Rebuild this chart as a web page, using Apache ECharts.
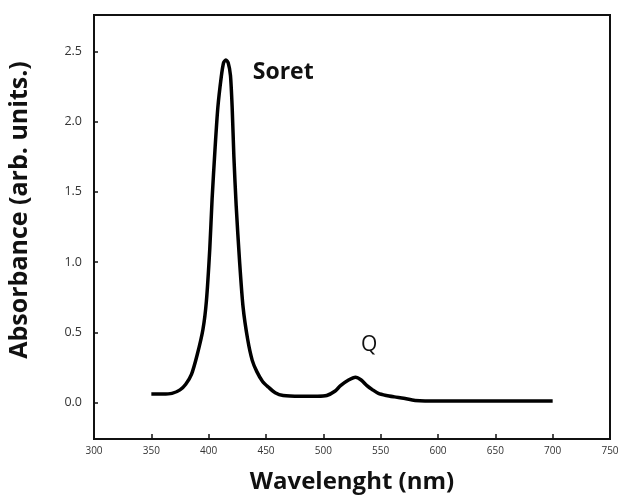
<!DOCTYPE html>
<html>
<head>
<meta charset="utf-8">
<script src="https://cdn.jsdelivr.net/npm/echarts@6/dist/echarts.min.js"></script>
<style>
  html, body { margin: 0; padding: 0; background: #fff; }
  #chart { width: 623px; height: 498px; }
</style>
</head>
<body>
<div id="chart"></div>
<script>
// spectrum
const wavelength = [350, 360, 368, 375, 380, 385, 390, 395, 398, 401, 403, 405.5, 408, 411, 413, 415, 417, 419, 420.5, 422, 424, 427, 430, 434, 438, 442, 447, 452, 458, 465, 480, 495, 503, 510, 515, 522, 528, 533, 538, 543, 548, 555, 562, 570, 580, 600, 650, 700];
const absorbance = [0.06, 0.06, 0.065, 0.09, 0.13, 0.2, 0.34, 0.52, 0.72, 1.1, 1.45, 1.8, 2.1, 2.32, 2.42, 2.44, 2.42, 2.33, 2.1, 1.75, 1.4, 1.0, 0.68, 0.45, 0.3, 0.22, 0.15, 0.11, 0.07, 0.05, 0.045, 0.045, 0.05, 0.08, 0.12, 0.16, 0.18, 0.16, 0.12, 0.09, 0.065, 0.05, 0.04, 0.03, 0.015, 0.01, 0.01, 0.01];
const yTicks = [0, 0.5, 1, 1.5, 2, 2.5];

const peakLabels = [
  { name: 'Soret', coord: [465, 2.35], bold: true },
  { name: 'Q', coord: [540, 0.41], bold: false }
];

const font = '"Open Sans", "Noto Sans", sans-serif';

const chart = echarts.init(document.getElementById('chart'));

const option = {
  animation: false,
  backgroundColor: '#fff',
  grid: {
    left: 94, right: 13, top: 15, bottom: 59,
    outerBoundsMode: 'none',
    show: true, borderColor: '#111', borderWidth: 2
  },
  xAxis: {
    type: 'value',
    min: 300, max: 750, interval: 50,
    name: 'Wavelenght (nm)',
    nameLocation: 'middle',
    nameGap: 31,
    nameTextStyle: { fontFamily: font, fontWeight: 'bold', fontSize: 24, color: '#111' },
    axisLine: { onZero: false, lineStyle: { color: '#111', width: 2 } },
    axisTick: { inside: true, length: 5, lineStyle: { color: '#111', width: 1.5 } },
    axisLabel: { fontFamily: font, fontSize: 10, color: '#333', margin: 7 },
    splitLine: { show: false }
  },
  yAxis: {
    type: 'value',
    min: -0.26, max: 2.76,
    name: 'Absorbance (arb. units.)',
    nameLocation: 'middle',
    nameGap: 62,
    nameTextStyle: {
      fontFamily: font, fontWeight: 'bold', fontSize: 25, color: '#111',
      padding: [0, 0, 0, 34]
    },
    axisLine: { onZero: false, lineStyle: { color: '#111', width: 2 } },
    axisTick: {
      inside: true, length: 4, customValues: yTicks,
      lineStyle: { color: '#111', width: 1.5 }
    },
    axisLabel: {
      fontFamily: font, fontSize: 12.5, color: '#333', margin: 12,
      customValues: yTicks,
      formatter: v => v.toFixed(1)
    },
    splitLine: { show: false }
  },
  series: [{
    type: 'line',
    data: wavelength.map((w, i) => [w, absorbance[i]]),
    smooth: 0.25,
    showSymbol: false,
    lineStyle: { color: '#000', width: 3.5 },
    markPoint: {
      symbolSize: 0,
      data: peakLabels.map(p => ({
        name: p.name,
        coord: p.coord,
        label: {
          show: true,
          formatter: p.name,
          fontFamily: font,
          fontSize: p.bold ? 23 : 21,
          fontWeight: p.bold ? 'bold' : 'normal',
          color: '#111'
        }
      }))
    }
  }]
};

chart.setOption(option);
</script>
</body>
</html>
